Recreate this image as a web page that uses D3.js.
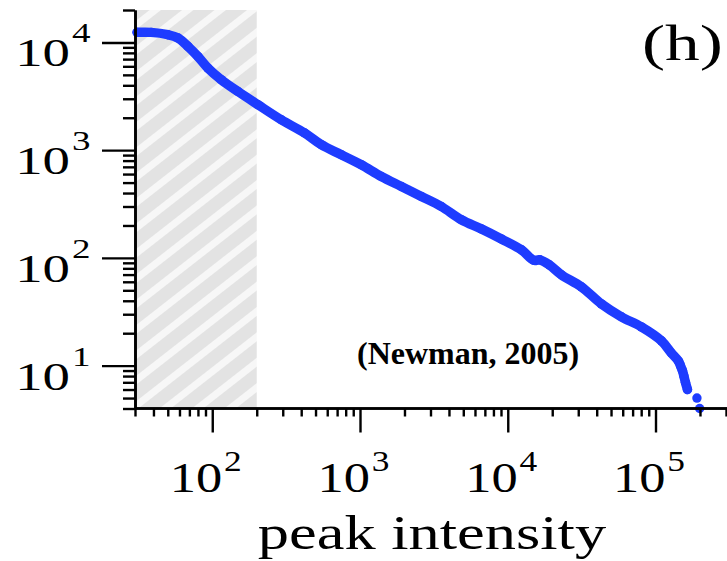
<!DOCTYPE html>
<html>
<head>
<meta charset="utf-8">
<script src="https://cdnjs.cloudflare.com/ajax/libs/d3/7.8.5/d3.min.js"></script>
<style>
  body { margin: 0; background: #fff; }
  svg { display: block; }
  text { font-family: "Liberation Serif", "Times New Roman", serif; fill: #000; }
</style>
</head>
<body>
<svg width="727" height="561"></svg>
<script>
// cumulative distribution of peak intensity
var peakIntensity = [31, 38.6, 50, 58.6, 68.5, 80, 93.5, 115, 149, 204,
    293, 422, 547, 747, 1020, 1393, 1905, 2600, 3550, 4850,
    6620, 9050, 12360, 15000, 16500, 19140, 23070, 31500, 43000, 58750,
    80200, 109600, 128000, 143000, 147500, 152000, 155600, 159400, 164500, 190700,
    199000];
var counts = [12400, 12400, 11800, 10990, 9190, 7410, 5780, 4510, 3510, 2640,
    1915, 1442, 1124, 906, 732, 570, 460, 372, 300, 226,
    186, 150, 119, 95, 96, 86, 69.7, 53.9, 37.4, 28.4,
    22.9, 17, 13.1, 11, 10, 9, 8, 7, 6, 5,
    4];

var xMajor = [100, 1000, 10000, 100000];
var yMajor = [10, 100, 1000, 10000];
var xDomain = [30, 300000];
var yDomain = [4, 20000];
var shadeLimit = 200;   // fitting cut-off, shaded region below it

var xTitle = "peak intensity";
var panelLabel = "(h)";
var sourceLabel = "(Newman, 2005)";

var svg = d3.select("svg");
var blue = "#1e3cff";

var x = d3.scaleLog().domain(xDomain).range([135, 726]);
var y = d3.scaleLog().domain(yDomain).range([408.5, 10]);

function minorTicks(domain) {
    var out = [];
    var lo = Math.floor(Math.log10(domain[0])), hi = Math.ceil(Math.log10(domain[1]));
    for (var e = lo; e <= hi; e++) {
        for (var m = 2; m <= 9; m++) {
            var v = m * Math.pow(10, e);
            if (v >= domain[0] - 1e-9 && v <= domain[1] + 1e-9) out.push(v);
        }
    }
    return out;
}

// hatched region
var defs = svg.append("defs");
var pat = defs.append("pattern")
    .attr("id", "hatch")
    .attr("patternUnits", "userSpaceOnUse")
    .attr("width", 20)
    .attr("height", 20)
    .attr("patternTransform", "rotate(52)");
pat.append("rect").attr("width", 20).attr("height", 20).attr("fill", "#e3e3e3");
pat.append("rect").attr("width", 7).attr("height", 20).attr("fill", "#f7f7f7");

svg.append("rect")
    .attr("x", x(xDomain[0]))
    .attr("y", y(yDomain[1]))
    .attr("width", x(shadeLimit) - x(xDomain[0]))
    .attr("height", y(yDomain[0]) - y(yDomain[1]))
    .attr("fill", "url(#hatch)");

// data
var pts = peakIntensity.map(function (d, i) { return [d, counts[i]]; });

var line = d3.line()
    .x(function (d) { return x(d[0]); })
    .y(function (d) { return y(d[1]); })
    .curve(d3.curveCatmullRom);

svg.append("path")
    .datum(pts.filter(function (d) { return d[1] >= 6; }))
    .attr("d", line)
    .attr("fill", "none")
    .attr("stroke", blue)
    .attr("stroke-width", 9.5)
    .attr("stroke-linecap", "round")
    .attr("stroke-linejoin", "round");

svg.selectAll(".dot")
    .data(pts)
    .enter()
    .append("circle")
    .attr("class", "dot")
    .attr("cx", function (d) { return x(d[0]); })
    .attr("cy", function (d) { return y(d[1]); })
    .attr("r", 4.7)
    .attr("fill", blue);

// axes
function styleAxis(g) {
    g.selectAll("path").attr("stroke-width", 2.6);
    g.selectAll("line").attr("stroke-width", 2.4);
}

var gx = svg.append("g").attr("transform", "translate(0," + y(yDomain[0]) + ")");
gx.append("g").call(d3.axisBottom(x).tickValues(minorTicks(xDomain)).tickSize(8).tickSizeOuter(0).tickFormat("")).call(styleAxis);
gx.append("g").call(d3.axisBottom(x).tickValues(xMajor).tickSize(24).tickSizeOuter(0).tickFormat("")).call(styleAxis);
gx.selectAll(".domain").attr("d", "M" + x(xDomain[0]) + ",0H727");

var gy = svg.append("g").attr("transform", "translate(" + x(xDomain[0]) + ",0)");
gy.append("g").call(d3.axisLeft(y).tickValues(minorTicks(yDomain)).tickSize(12).tickSizeOuter(0).tickFormat("")).call(styleAxis);
gy.append("g").call(d3.axisLeft(y).tickValues(yMajor).tickSize(33).tickSizeOuter(0).tickFormat("")).call(styleAxis);

// tick labels, 10 with exponent
yMajor.forEach(function (v) {
    var g = svg.append("g").attr("transform", "translate(70," + y(v) + ") scale(1.37,1)");
    g.append("text").attr("text-anchor", "end").attr("y", 24).attr("font-size", 40).text("10");
    g.append("text").attr("x", 1.5).attr("y", 0).attr("font-size", 27).text(Math.round(Math.log10(v)));
});

xMajor.forEach(function (v) {
    var g = svg.append("g").attr("transform", "translate(" + (x(v) + 10) + ",492) scale(1.22,1)");
    g.append("text").attr("text-anchor", "end").attr("font-size", 43).text("10");
    g.append("text").attr("x", 1.5).attr("y", -21).attr("font-size", 29).text(Math.round(Math.log10(v)));
});

svg.append("g")
    .attr("transform", "translate(432,549) scale(1.3,1)")
    .append("text")
    .attr("text-anchor", "middle")
    .attr("font-size", 48)
    .text(xTitle);

svg.append("g")
    .attr("transform", "translate(642,60) scale(1.36,1)")
    .append("text")
    .attr("font-size", 51)
    .text(panelLabel);

svg.append("text")
    .attr("x", 357)
    .attr("y", 364)
    .attr("font-size", 32)
    .attr("font-weight", "bold")
    .text(sourceLabel);
</script>
</body>
</html>
